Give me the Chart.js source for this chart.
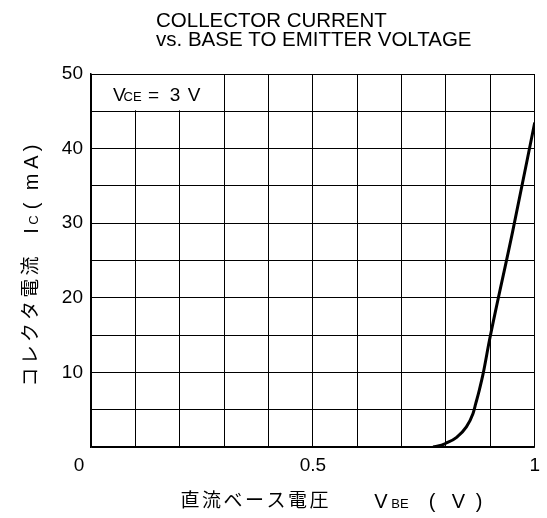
<!DOCTYPE html>
<html><head><meta charset="utf-8">
<script src="https://cdn.jsdelivr.net/npm/chart.js@4/dist/chart.umd.min.js"></script>
<style>html,body{margin:0;padding:0;background:#fff}canvas{display:block}</style>
</head><body>
<canvas id="c" width="547" height="518"></canvas>
<script>
// ---- data ----
const vbe = [0.771, 0.79, 0.80, 0.824, 0.846, 0.861, 0.867, 0.875, 0.884, 0.898, 0.95, 1.0];
const ic  = [0,     0.25, 0.5,  1.3,   2.7,   4.5,   5.8,   7.6,   9.9,   14.3,  28.8, 43.5];
const xTickLabels = ['0', '0.5', '1'];
const xTickValues = [0, 0.5, 1];
const yTickValues = [10, 20, 30, 40, 50];
const titleLines = ['COLLECTOR CURRENT', 'vs. BASE TO EMITTER VOLTAGE'];
const xTitleJa = '直流ベース電圧';
const yTitleJa = 'コレクタ電流';
const condition = { main: 'V', sub: 'CE', rest: ['=', '3', 'V'] };

const LAT = '"Liberation Sans", Arial, sans-serif';
const CJK = '"Noto Sans CJK JP", sans-serif';

const points = vbe.map((v, i) => ({ x: v, y: ic[i] }));

const overlay = {
  id: 'overlay',
  beforeDatasetsDraw(chart) {
    const { ctx, scales: { x, y } } = chart;
    // condition box in the top-left cells (inner grid lines hidden)
    const x0 = x.getPixelForValue(0), x1 = x.getPixelForValue(0.3);
    const y0 = y.getPixelForValue(50), y1 = y.getPixelForValue(45);
    ctx.save();
    ctx.fillStyle = '#fff';
    ctx.fillRect(x0 + 1, y0 + 1, x1 - x0 - 2, y1 - y0 - 2);
    ctx.fillStyle = '#000';
    ctx.textBaseline = 'alphabetic';
    ctx.textAlign = 'left';
    const base = y0 + 27;
    ctx.font = '19px ' + LAT;
    ctx.fillText(condition.main, x0 + 22, base);
    ctx.font = '13px ' + LAT;
    ctx.fillText(condition.sub, x0 + 32.5, base);
    ctx.font = '19px ' + LAT;
    ctx.textAlign = 'center';
    const rx = [x0 + 62.5, x0 + 84, x0 + 103];
    condition.rest.forEach((t, i) => ctx.fillText(t, rx[i], base));
    ctx.restore();
  },
  afterDraw(chart) {
    const { ctx, scales: { x, y } } = chart;
    ctx.save();
    ctx.fillStyle = '#000';
    // title (two left-aligned lines)
    ctx.font = '20.5px ' + LAT;
    ctx.textAlign = 'left';
    ctx.textBaseline = 'alphabetic';
    ctx.fillText(titleLines[0], 156, 27);
    ctx.fillText(titleLines[1], 156, 46);
    // shared origin label
    ctx.font = '19px ' + LAT;
    ctx.textAlign = 'center';
    ctx.textBaseline = 'middle';
    ctx.fillText(xTickLabels[0], x.getPixelForValue(xTickValues[0]) - 12, 466);

    // x axis title
    ctx.font = '19px ' + CJK;
    ctx.textBaseline = 'middle';
    const cx0 = 190, pitch = 21.5;
    [...xTitleJa].forEach((ch, i) => ctx.fillText(ch, cx0 + i * pitch, 500));
    ctx.textBaseline = 'alphabetic';
    ctx.font = '20px ' + LAT;
    ctx.fillText('V', 381, 508);
    ctx.font = '13px ' + LAT;
    ctx.fillText('BE', 400, 508);
    ctx.font = '20px ' + LAT;
    ctx.fillText('(', 432, 508);
    ctx.fillText('V', 458.3, 508);
    ctx.fillText(')', 479, 508);

    // y axis title (rotated)
    ctx.translate(30, 0);
    ctx.rotate(-Math.PI / 2);
    ctx.font = '19px ' + CJK;
    ctx.textBaseline = 'middle';
    ctx.textAlign = 'center';
    [...yTitleJa].forEach((ch, i) => ctx.fillText(ch, -(377 - i * 22.2), 0));
    ctx.textBaseline = 'alphabetic';
    ctx.font = '20px ' + LAT;
    ctx.fillText('I', -231, 8);
    ctx.font = '13px ' + LAT;
    ctx.fillText('C', -220, 8);
    ctx.font = '20px ' + LAT;
    ctx.fillText('(', -206, 8);
    ctx.fillText('m', -182, 8);
    ctx.fillText('A', -162, 8);
    ctx.fillText(')', -148, 8);
    ctx.restore();
  }
};

const near = (a, b) => Math.abs(a - b) < 1e-6;

new Chart(document.getElementById('c'), {
  type: 'line',
  data: {
    datasets: [{
      data: points,
      borderColor: '#000',
      borderWidth: 3,
      pointRadius: 0,
      fill: false,
      cubicInterpolationMode: 'monotone'
    }]
  },
  options: {
    responsive: false,
    animation: false,
    devicePixelRatio: 1,
    layout: { padding: { left: 0, right: 12, top: 74, bottom: 0 } },
    plugins: { legend: { display: false }, tooltip: { enabled: false }, title: { display: false } },
    scales: {
      x: {
        type: 'linear',
        min: 0, max: 1,
        afterFit(s) { s.height = 71; },
        grid: { color: '#000', lineWidth: 1, drawTicks: false },
        border: { display: true, color: '#000', width: 1.5 },
        ticks: {
          stepSize: 0.1,
          autoSkip: false,
          maxRotation: 0,
          padding: 7,
          color: '#000',
          font: { family: LAT, size: 19 },
          callback(v) {
            for (let i = 1; i < xTickValues.length; i++) if (near(v, xTickValues[i])) return xTickLabels[i];
            return '';
          }
        }
      },
      y: {
        type: 'linear',
        min: 0, max: 50,
        afterFit(s) { s.width = 91; },
        grid: { color: '#000', lineWidth: 1, drawTicks: false },
        border: { display: true, color: '#000', width: 1.5 },
        ticks: {
          stepSize: 5,
          autoSkip: false,
          padding: 8,
          color: '#000',
          font: { family: LAT, size: 19 },
          callback(v) { return yTickValues.some(t => near(t, v)) ? String(v) : ''; }
        }
      }
    }
  },
  plugins: [overlay]
});
</script>
</body></html>
